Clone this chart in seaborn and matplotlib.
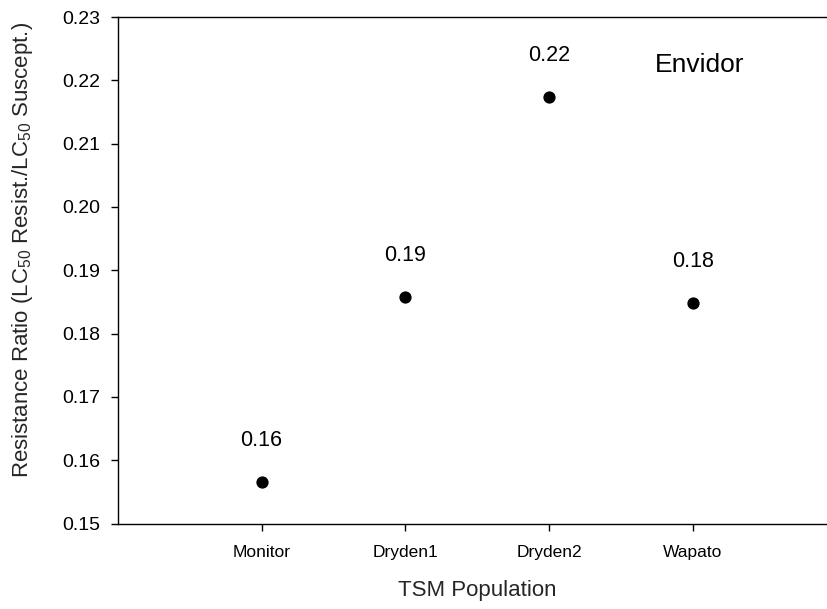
import matplotlib
matplotlib.use("Agg")
import matplotlib.pyplot as plt
import seaborn as sns
import pandas as pd

populations = ["Monitor", "Dryden1", "Dryden2", "Wapato"]
ratios = [0.1566, 0.1858, 0.2174, 0.1848]
labels = ["0.16", "0.19", "0.22", "0.18"]
yticks = [0.15, 0.16, 0.17, 0.18, 0.19, 0.20, 0.21, 0.22, 0.23]

sns.set_style("ticks")
plt.rcParams["font.family"] = ["Liberation Sans", "DejaVu Sans"]
plt.rcParams["mathtext.fontset"] = "custom"
plt.rcParams["mathtext.rm"] = "Liberation Sans"
plt.rcParams["mathtext.it"] = "Liberation Sans:italic"

df = pd.DataFrame({"Population": populations, "Ratio": ratios})

fig = plt.figure(figsize=(8.27, 6.09), dpi=100)
ax = fig.add_axes([117.7 / 827, 85.5 / 609, 719 / 827, 506.5 / 609])

sns.scatterplot(data=df, x="Population", y="Ratio", ax=ax, color="black",
                s=78, edgecolor="black", linewidth=0, legend=False)

for i, (v, lab) in enumerate(zip(ratios, labels)):
    ax.annotate(lab, (i, v), xytext=(0, 30), textcoords="offset points",
                ha="center", va="center", fontsize=15.5, color="black")

ax.text(700 / 827, 1 - 64.5 / 609, "Envidor", transform=fig.transFigure,
        ha="center", va="center", fontsize=19, color="black")

ax.set_xlim(-1, 4)
ax.set_ylim(0.15, 0.23)
ax.set_yticks(yticks)
ax.set_yticklabels([f"{t:.2f}" for t in yticks])

ax.spines["right"].set_visible(False)
for s in ["left", "bottom", "top"]:
    ax.spines[s].set_linewidth(1.0)
    ax.spines[s].set_color("black")

ax.tick_params(axis="y", direction="out", length=4.7, width=1.0, pad=8,
               labelsize=14, colors="black")
ax.tick_params(axis="x", direction="out", length=4.7, width=1.0, pad=11,
               labelsize=12.5, colors="black")

ax.set_xlabel("TSM Population", fontsize=16, labelpad=14)
ax.set_ylabel(r"Resistance Ratio (LC$_{50}$ Resist./LC$_{50}$ Suscept.)",
              fontsize=16)
ax.yaxis.set_label_coords(-0.115, 0.54)

fig.savefig("out.png", dpi=100)
